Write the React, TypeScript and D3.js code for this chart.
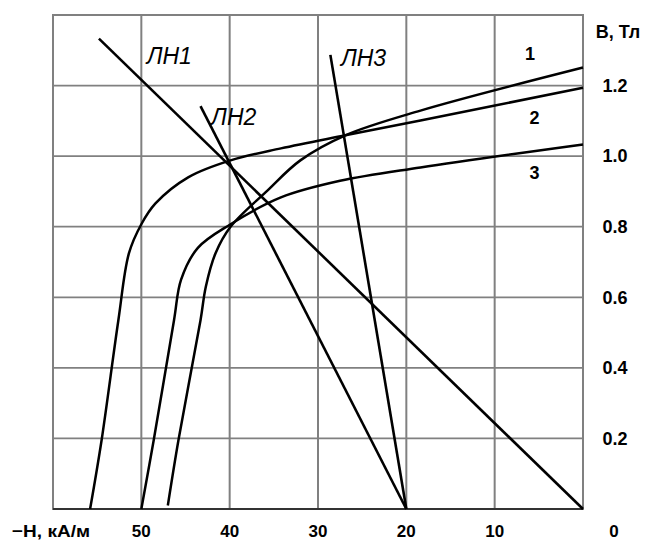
import React from "react";
import * as d3 from "d3";

// demagnetization curves, H in kA/m (plotted as -H), B in T
const hGrid = [50, 40, 30, 20, 10];
const bGrid = [0.2, 0.4, 0.6, 0.8, 1.0, 1.2];
const bLabels = ["0.2", "0.4", "0.6", "0.8", "1.0", "1.2"];

const curve1: [number, number][] = [
  [47.0, 0.01], [45.8, 0.195], [43.3, 0.535], [42.7, 0.63], [41.6, 0.725],
  [39.9, 0.8], [35.7, 0.903], [32.0, 0.988], [26.9, 1.059], [18.4, 1.129], [0, 1.251],
];
const curve2: [number, number][] = [
  [55.8, 0], [54.5, 0.195], [52.6, 0.535], [51.4, 0.725], [50.0, 0.807],
  [48.4, 0.866], [44.7, 0.94], [39.9, 0.988], [34.2, 1.022], [26.9, 1.059],
  [18.4, 1.101], [0, 1.194],
];
const curve3: [number, number][] = [
  [50.0, 0], [48.6, 0.195], [46.3, 0.535], [45.5, 0.65], [43.6, 0.74],
  [39.9, 0.807], [34.2, 0.883], [27.5, 0.93], [18.4, 0.968], [0, 1.033],
];

const loadLines = [
  { name: "ЛН1", pts: [[54.8, 1.333], [0, 0]] as [number, number][] },
  { name: "ЛН2", pts: [[43.3, 1.142], [20, 0]] as [number, number][] },
  { name: "ЛН3", pts: [[28.6, 1.287], [20, 0]] as [number, number][] },
];

export default function App() {
  const width = 648;
  const height = 542;

  const x = d3.scaleLinear().domain([60, 0]).range([53, 583]);
  const y = d3.scaleLinear().domain([0, 1.4]).range([509, 15]);

  const curveLine = d3
    .line<[number, number]>()
    .x((d) => x(d[0]))
    .y((d) => y(d[1]))
    .curve(d3.curveCatmullRom.alpha(0.5));

  const straight = d3
    .line<[number, number]>()
    .x((d) => x(d[0]))
    .y((d) => y(d[1]));

  const gridColor = "#808080";
  const bold = { fontFamily: "'Liberation Sans', Arial, sans-serif", fontWeight: 700, fontSize: 18 };
  const ital = { fontFamily: "'Liberation Sans', Arial, sans-serif", fontStyle: "italic", fontSize: 23 };

  return (
    <svg
      width={width}
      height={height}
      style={{ position: "absolute", left: 0, top: 0, background: "#fff" }}
    >
      {/* grid */}
      {hGrid.map((h) => (
        <line key={"v" + h} x1={x(h)} x2={x(h)} y1={y(0)} y2={y(1.4)} stroke={gridColor} strokeWidth={2} />
      ))}
      {bGrid.map((b) => (
        <line key={"h" + b} x1={x(60)} x2={x(0)} y1={y(b)} y2={y(b)} stroke={gridColor} strokeWidth={1.8} />
      ))}
      <rect
        x={x(60)}
        y={y(1.4)}
        width={x(0) - x(60)}
        height={y(0) - y(1.4)}
        fill="none"
        stroke={gridColor}
        strokeWidth={2}
      />
      <line x1={x(60)} x2={x(0)} y1={y(0)} y2={y(0)} stroke="#333" strokeWidth={2} />

      {/* B-H curves */}
      {[curve1, curve2, curve3].map((c, i) => (
        <path key={"c" + i} d={curveLine(c) || ""} fill="none" stroke="#000" strokeWidth={2.5} />
      ))}

      {/* load lines */}
      {loadLines.map((l) => (
        <path key={l.name} d={straight(l.pts) || ""} fill="none" stroke="#000" strokeWidth={2.6} />
      ))}

      {/* load line labels */}
      <text x={x(49.4)} y={y(1.261)} style={ital}>ЛН1</text>
      <text x={x(42.1)} y={y(1.088)} style={ital}>ЛН2</text>
      <text x={x(27.4)} y={y(1.255)} style={ital}>ЛН3</text>

      {/* curve labels */}
      <text x={x(6.0)} y={y(1.272)} textAnchor="middle" style={bold}>1</text>
      <text x={x(5.5)} y={y(1.091)} textAnchor="middle" style={bold}>2</text>
      <text x={x(5.5)} y={y(0.935)} textAnchor="middle" style={bold}>3</text>

      {/* right axis labels */}
      {bGrid.map((b, i) => (
        <text key={"bl" + b} x={615} y={y(b)} dy="0.35em" textAnchor="middle" style={bold}>
          {bLabels[i]}
        </text>
      ))}
      <text x={618} y={38} textAnchor="middle" style={bold}>B, Тл</text>

      {/* bottom axis labels */}
      {hGrid.map((h) => (
        <text key={"hl" + h} x={x(h)} y={537} textAnchor="middle" style={{ ...bold, fontSize: 17 }}>
          {h}
        </text>
      ))}
      <text x={614} y={537} textAnchor="middle" style={{ ...bold, fontSize: 17 }}>0</text>
      <text
        x={12}
        y={537}
        textLength={78}
        lengthAdjust="spacingAndGlyphs"
        style={{ ...bold, fontSize: 17 }}
      >
        −H, кА/м
      </text>
    </svg>
  );
}
